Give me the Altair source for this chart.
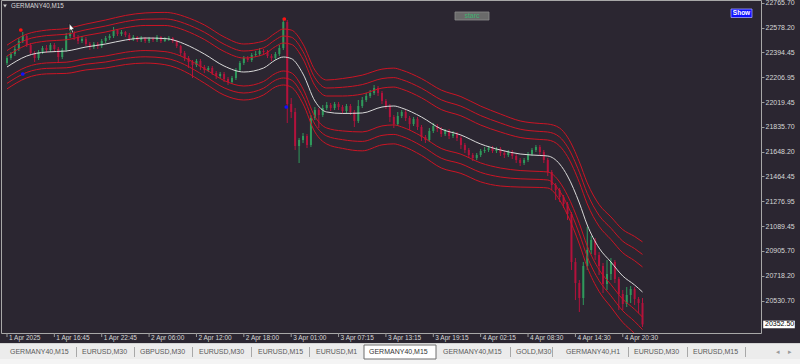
import altair as alt
import pandas as pd

# ---------------- data (GERMANY40, M15, one value every 2 bars) ----------------
FIRST_OPEN = 22313.5
CLOSE = [
    22351, 22381, 22418.5, 22478.5, 22516, 22448.5, 22388.5, 22351, 22396, 22426,
    22411, 22448.5, 22418.5, 22358.5, 22411, 22516, 22538.5, 22508.5, 22478.5, 22493.5,
    22456, 22433.5, 22456, 22441, 22478.5, 22501, 22516, 22561, 22531, 22546,
    22523.5, 22493.5, 22508.5, 22486, 22501, 22478.5, 22493.5, 22486, 22508.5, 22478.5,
    22493.5, 22501, 22478.5, 22441, 22388.5, 22351, 22321, 22298.5, 22328.5, 22283.5,
    22261, 22276, 22238.5, 22216, 22231, 22193.5, 22171, 22201, 22261, 22313.5,
    22351, 22336, 22373.5, 22381, 22403.5, 22396, 22366, 22351, 22381, 22426,
    22621, 22006, 21946, 21691, 21736, 21766, 21698.5, 21901, 21961, 21923.5,
    21976, 21998.5, 21976, 22006, 21983.5, 21953.5, 21991, 21946, 21878.5, 21991,
    22036, 22066, 22088.5, 22126, 22088.5, 22028.5, 21991, 21908.5, 21856, 21916,
    21946, 21901, 21856, 21893.5, 21833.5, 21758.5, 21736, 21803.5, 21841, 21818.5,
    21781, 21803.5, 21766, 21781, 21751, 21698.5, 21661, 21623.5, 21601, 21623.5,
    21653.5, 21661, 21676, 21653.5, 21668.5, 21638.5, 21623.5, 21646, 21616, 21586,
    21563.5, 21586, 21631, 21661, 21683.5, 21646, 21586, 21496, 21398.5, 21361,
    21308.5, 21256, 21181, 20821, 20663.5, 20551, 20791, 20911, 20986, 20873.5,
    20791, 20656, 20731, 20821, 20693.5, 20581, 20506, 20573.5, 20618.5, 20543.5,
    20513.5, 20352.5,
]
HIGH = [
    22366, 22396, 22441, 22501, 22546, 22531, 22463.5, 22403.5, 22411, 22441,
    22448.5, 22463.5, 22463.5, 22433.5, 22426, 22538.5, 22576, 22553.5, 22523.5, 22516,
    22508.5, 22471, 22471, 22471, 22493.5, 22516, 22531, 22583.5, 22568.5, 22561,
    22553.5, 22538.5, 22523.5, 22516, 22516, 22508.5, 22508.5, 22508.5, 22523.5, 22516,
    22508.5, 22516, 22508.5, 22486, 22448.5, 22403.5, 22366, 22336, 22343.5, 22343.5,
    22298.5, 22291, 22291, 22253.5, 22246, 22246, 22208.5, 22216, 22276, 22328.5,
    22366, 22366, 22388.5, 22403.5, 22426, 22418.5, 22411, 22381, 22396, 22448.5,
    22651, 22636, 22051, 21976, 21751, 21788.5, 21781, 21923.5, 21983.5, 21976,
    21998.5, 22021, 22013.5, 22021, 22021, 21998.5, 22006, 22006, 21961, 22036,
    22058.5, 22088.5, 22111, 22148.5, 22141, 22103.5, 22043.5, 22006, 21923.5, 21946,
    21961, 21961, 21916, 21908.5, 21908.5, 21848.5, 21773.5, 21826, 21863.5, 21856,
    21833.5, 21818.5, 21818.5, 21803.5, 21796, 21766, 21713.5, 21676, 21638.5, 21638.5,
    21668.5, 21683.5, 21691, 21691, 21683.5, 21683.5, 21653.5, 21661, 21661, 21631,
    21601, 21601, 21646, 21676, 21698.5, 21698.5, 21661, 21601, 21511, 21413.5,
    21376, 21323.5, 21271, 21196, 20851, 20686, 20821, 21083.5, 21016, 21001,
    20896, 20813.5, 20836, 20851, 20836, 20708.5, 20611, 20633.5, 20641, 20633.5,
    20558.5, 20551,
]
LOW = [
    22298.5, 22336, 22366, 22403.5, 22463.5, 22433.5, 22373.5, 22321, 22336, 22381,
    22388.5, 22396, 22396, 22321, 22343.5, 22396, 22501, 22486, 22456, 22463.5,
    22441, 22411, 22418.5, 22418.5, 22426, 22463.5, 22486, 22501, 22516, 22516,
    22508.5, 22478.5, 22478.5, 22471, 22471, 22463.5, 22463.5, 22471, 22471, 22463.5,
    22471, 22478.5, 22463.5, 22426, 22366, 22328.5, 22276, 22201, 22283.5, 22261,
    22238.5, 22246, 22223.5, 22193.5, 22201, 22171, 22148.5, 22156, 22186, 22246,
    22298.5, 22321, 22321, 22358.5, 22366, 22373.5, 22351, 22328.5, 22336, 22366,
    22411, 21863.5, 21901, 21661, 21563.5, 21713.5, 21676, 21683.5, 21886, 21826,
    21908.5, 21961, 21953.5, 21961, 21961, 21931, 21938.5, 21923.5, 21833.5, 21863.5,
    21976, 22021, 22051, 22073.5, 22066, 22006, 21968.5, 21871, 21826, 21841,
    21901, 21878.5, 21811, 21841, 21811, 21728.5, 21713.5, 21721, 21788.5, 21796,
    21758.5, 21766, 21743.5, 21751, 21728.5, 21668.5, 21638.5, 21601, 21578.5, 21586,
    21608.5, 21638.5, 21646, 21638.5, 21638.5, 21616, 21601, 21608.5, 21593.5, 21563.5,
    21541, 21548.5, 21571, 21616, 21646, 21623.5, 21563.5, 21466, 21361, 21286,
    21271, 21226, 21136, 20761, 20536, 20446, 20498.5, 20761, 20881, 20836,
    20723.5, 20588.5, 20611, 20686, 20663.5, 20461, 20461, 20483.5, 20513.5, 20498.5,
    20438.5, 20333.5,
]

# STARC bands: middle line and band unit (price), read at these bar positions
MID_IDX = [0, 5, 10, 15, 20, 25, 30, 35, 40, 43, 45, 50, 55, 60, 65, 68, 70, 72, 75, 78,
           81, 85, 90, 95, 98, 100, 105, 110, 115, 120, 125, 130, 135, 137, 140, 142, 145,
           147, 150, 153, 156, 159, 161]
MID = [22283.5, 22366, 22396, 22403.5, 22433.5, 22456, 22486, 22501, 22497, 22478.5,
       22456, 22381, 22291, 22246, 22276, 22336, 22358.5, 22347, 22231, 22028.5,
       21946, 21935, 21938.5, 21983.5, 21991, 21976, 21908.5, 21818.5, 21773.5, 21706,
       21661, 21631, 21620, 21616, 21556, 21466, 21263.5, 21098.5, 20926, 20821,
       20716, 20648.5, 20596]
BAND_UNIT = [82, 82, 82, 84, 86, 90, 92, 94, 98, 101, 103, 109, 109, 105, 101, 101, 105,
             107, 112, 116, 120, 131, 142, 142, 142, 142, 144, 146, 144, 142, 135, 124,
             120, 120, 135, 146, 154, 158, 163, 169, 174, 182, 188]
BAND_MULT = [-2.0, -1.5, -1.0, 1.0, 1.5, 2.0]

RED_DOT_IDX = [3.5, 70.25]
RED_DOT_PRICE = [22561, 22643.5]
BLUE_DOT_IDX = [4, 70.75]
BLUE_DOT_PRICE = [22231, 21983.5]

TIME_IDX = [0, 12, 24, 36, 48, 60, 72, 84, 96, 108, 120, 132, 144, 156]
TIME_LABELS = ["1 Apr 2025", "1 Apr 16:45", "1 Apr 22:45", "2 Apr 06:00", "2 Apr 12:00",
               "2 Apr 18:00", "3 Apr 01:00", "3 Apr 07:15", "3 Apr 13:15", "3 Apr 19:15",
               "4 Apr 02:15", "4 Apr 08:30", "4 Apr 14:30", "4 Apr 20:30"]
Y_TICKS = [22765.70, 22578.20, 22394.45, 22206.95, 22019.45, 21835.70, 21648.20,
           21464.45, 21276.95, 21089.45, 20905.70, 20718.20, 20530.70]
LAST_PRICE = [20352.50]

TABS = ["GERMANY40,M15", "EURUSD,M30", "GBPUSD,M30", "EURUSD,M30", "EURUSD,M15",
        "EURUSD,M1", "GERMANY40,M15", "GERMANY40,M15", "GOLD,M30", "GERMANY40,H1",
        "EURUSD,M30", "EURUSD,M15"]
ACTIVE_TAB = 6

# ---------------- layout / style ----------------
TAB_LEFT = [10, 82, 140, 199, 258, 316, 369, 443, 516, 566, 634, 693]
TAB_SEP = [76, 134, 192, 251, 309, 510, 552, 628, 687, 745]
BG = "#2b2631"
BULL = "#2f9a5c"
BEAR = "#b3123c"
BAND = "#cc1424"
MIDC = "#d9d9d9"
FONT = "Liberation Sans"

n = len(CLOSE)
opens = [FIRST_OPEN] + CLOSE[:-1]
candles = pd.DataFrame({"idx": list(range(n)), "open": opens, "close": CLOSE,
                        "high": HIGH, "low": LOW})

band_rows = []
for k in BAND_MULT:
    for i, m, u in zip(MID_IDX, MID, BAND_UNIT):
        band_rows.append({"idx": i, "price": m + k * u, "band": str(k)})
bands = pd.DataFrame(band_rows)
mid = pd.DataFrame({"idx": MID_IDX, "price": MID})

xs = alt.Scale(domain=[-0.25, 189.75], nice=False, zero=False)
ys = alt.Scale(domain=[20288.5, 22786], nice=False, zero=False)
yax = alt.Axis(orient="right", values=Y_TICKS, format=".2f", title=None, grid=False,
               domain=False, tickSize=3, tickColor="#9a9a9a", labelColor="#d6d6d6",
               labelFont=FONT, labelFontSize=7, labelPadding=1, labelOverlap=False,
               labelFlush=False, labelBound=False)


def X(f):
    return alt.X(f, type="quantitative", scale=xs, axis=None)


def Y(f):
    return alt.Y(f, type="quantitative", scale=ys, axis=yax)


col = alt.condition("datum.close >= datum.open", alt.value(BULL), alt.value(BEAR))

layers = []
layers.append(alt.Chart(candles).mark_rule(strokeWidth=1).encode(
    x=X("idx"), y=Y("low"), y2="high", color=col))
layers.append(alt.Chart(candles).mark_bar(width=2).encode(
    x=X("idx"), y=Y("open"), y2="close", color=col))
layers.append(alt.Chart(bands).mark_line(strokeWidth=1, color=BAND, interpolate="monotone",
                                         clip=True).encode(
    x=X("idx"), y=Y("price"), detail="band:N"))
layers.append(alt.Chart(mid).mark_line(strokeWidth=1, color=MIDC, interpolate="monotone",
                                       clip=True).encode(x=X("idx"), y=Y("price")))
layers.append(alt.Chart(pd.DataFrame({"idx": RED_DOT_IDX, "price": RED_DOT_PRICE}))
              .mark_circle(size=14, color="#ff1010", opacity=1).encode(x=X("idx"), y=Y("price")))
layers.append(alt.Chart(pd.DataFrame({"idx": BLUE_DOT_IDX, "price": BLUE_DOT_PRICE}))
              .mark_circle(size=14, color="#1010ff", opacity=1).encode(x=X("idx"), y=Y("price")))

# time axis (MT4 style: tick + left aligned label)
tdf = pd.DataFrame({"idx": TIME_IDX, "t": TIME_LABELS})
layers.append(alt.Chart(tdf).mark_rule(color="#9a9a9a", strokeWidth=1).encode(
    x=X("idx"), y=alt.value(333), y2=alt.value(337)))
layers.append(alt.Chart(tdf).mark_text(align="left", baseline="middle", dx=2, fontSize=6.5,
                                       font=FONT, color="#d6d6d6").encode(
    x=X("idx"), y=alt.value(338), text="t:N"))

# current price marker on the price scale
lp = pd.DataFrame({"price": LAST_PRICE})
layers.append(alt.Chart(lp).mark_point(shape="M-1,-0.24L1,-0.24L1,0.24L-1,0.24Z", size=1000,
                                       filled=True, fill="#ffffff", opacity=1,
                                       strokeWidth=0).encode(
    x=alt.value(778), y=Y("price")))
layers.append(alt.Chart(lp).mark_text(align="left", baseline="middle", fontSize=7, font=FONT,
                                      color="#000000").encode(
    x=alt.value(764), y=Y("price"), text=alt.Text("price:Q", format=".2f")))


def rect(x1, x2, y1, y2, fill, stroke=None, sw=1):
    kw = {"fill": fill}
    if stroke:
        kw.update(stroke=stroke, strokeWidth=sw)
    else:
        kw.update(strokeWidth=0)
    return alt.Chart(pd.DataFrame({"a": [0]})).mark_rect(**kw).encode(
        x=alt.value(x1 - 1), x2=alt.value(x2 - 1), y=alt.value(y1), y2=alt.value(y2))


def txt(s, x, y, size=7, color="#555555", align="left", weight="normal"):
    return alt.Chart(pd.DataFrame({"t": [s]})).mark_text(
        align=align, baseline="middle", fontSize=size, color=color, font=FONT,
        fontWeight=weight).encode(text="t:N", x=alt.value(x - 1), y=alt.value(y))


# title
layers.append(alt.Chart(pd.DataFrame({"a": [0]})).mark_point(
    shape="triangle-down", size=14, filled=True, color="#d0d0d0", opacity=1).encode(
    x=alt.value(4), y=alt.value(6)))
layers.append(txt("GERMANY40,M15", 11, 6, size=6.3, color="#d8d8d8"))

# buttons
layers.append(rect(455, 489, 12, 20, "#6a6a6a", "#8a8a8a", 0.8))
layers.append(txt("starc", 472, 16, size=7, color="#3cb371", align="center"))
layers.append(rect(731, 752, 9, 17.5, "#1010ff", "#a0a0ff", 0.8))
layers.append(txt("Show", 741.5, 13.3, size=6.5, color="#ffffff", align="center", weight="bold"))

# mouse cursor
layers.append(alt.Chart(pd.DataFrame({"a": [0]})).mark_point(
    shape="M-0.55,-1L-0.55,0.55L-0.2,0.22L0.08,0.9L0.32,0.8L0.05,0.15L0.5,0.15Z",
    size=100, filled=True, fill="#ffffff", stroke="#000000", strokeWidth=0.6,
    opacity=1).encode(x=alt.value(71), y=alt.value(28.5)))

# tab strip
layers.append(rect(0, 801, 343, 365, "#ececec"))
layers.append(rect(0, 801, 343, 344, "#d4d4d4"))
layers.append(rect(0, 801, 359, 365, "#f4f4f4"))
layers.append(rect(364, 436, 345, 359, "#ffffff", "#6e6e6e", 1))
for i, (name, x) in enumerate(zip(TABS, TAB_LEFT)):
    layers.append(txt(name, x, 352, size=7, color="#333333" if i == ACTIVE_TAB else "#5a5a5a"))
for x in TAB_SEP:
    layers.append(rect(x, x + 1, 347, 357, "#a8a8a8"))
layers.append(txt("◂", 778, 352, size=7, color="#9a9a9a", align="center"))
layers.append(txt("▸", 790, 352, size=7, color="#9a9a9a", align="center"))

chart = alt.layer(*layers).properties(
    width=760, height=333, autosize="none",
    padding={"left": 1, "top": 0, "right": 39, "bottom": 31},
    background=BG,
).configure_view(stroke="#a8a8a8", strokeWidth=1, fill=BG)

chart.save("out.html", embed_options={"renderer": "svg", "actions": False})
